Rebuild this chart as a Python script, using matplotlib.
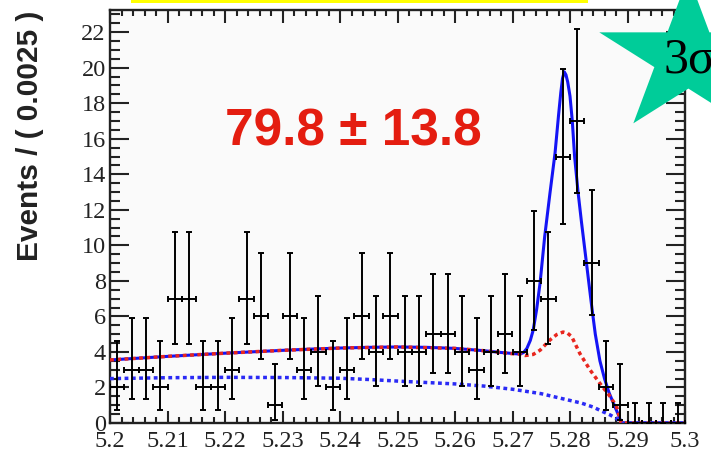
import numpy as np
import matplotlib
matplotlib.use("Agg")
import matplotlib.pyplot as plt
from matplotlib.patches import Polygon, Rectangle
from matplotlib.ticker import MultipleLocator, FuncFormatter

W, H = 711, 453

# m_ES histogram, 40 bins of 0.0025 between 5.2 and 5.3
bin_lo = 5.2
bin_width = 0.0025
counts = [2, 3, 3, 2, 7, 7, 2, 2, 3, 7,
          6, 1, 6, 3, 4, 2, 3, 6, 4, 6,
          4, 4, 5, 5, 4, 3, 4, 5, 4, 8,
          7, 15, 17, 9, 2, 1, 0, 0, 0, 0]

# 68% Poisson intervals (lower, upper) per observed count
poisson_band = {
    0: (0.0, 1.15), 1: (0.173, 3.30), 2: (0.708, 4.64), 3: (1.37, 5.92),
    4: (2.09, 7.16), 5: (2.84, 8.38), 6: (3.62, 9.58), 7: (4.42, 10.77),
    8: (5.24, 11.95), 9: (6.06, 13.11), 15: (11.18, 19.95), 17: (12.92, 22.20),
}

# fit projections: full model, model without signal, combinatorial part
total_x = [5.200, 5.205, 5.210, 5.215, 5.220, 5.225, 5.230, 5.235, 5.240, 5.245,
           5.250, 5.255, 5.260, 5.265, 5.268, 5.2705, 5.2713, 5.2719, 5.2725, 5.2731,
           5.2736, 5.2742, 5.2748, 5.2756, 5.2765, 5.2774, 5.2780, 5.2784, 5.2787, 5.2790,
           5.2793, 5.2796, 5.2800, 5.2804, 5.2808, 5.2814, 5.2820, 5.2826, 5.2832, 5.2838,
           5.2844, 5.2852, 5.2860, 5.2868, 5.2878, 5.2885, 5.2889, 5.3000]
total_y = [3.55, 3.65, 3.75, 3.84, 3.93, 4.01, 4.09, 4.16, 4.22, 4.26,
           4.28, 4.26, 4.20, 4.07, 3.97, 3.90, 3.88, 3.96, 4.20, 4.65,
           5.23, 6.40, 7.90, 10.5, 12.9, 15.2, 17.3, 18.6, 19.4, 19.77,
           19.6, 19.2, 18.4, 17.0, 15.0, 13.0, 11.3, 9.7, 8.1, 6.5,
           5.0, 3.5, 2.5, 1.7, 0.92, 0.40, 0.0, 0.0]

peaking_x = [5.200, 5.210, 5.220, 5.230, 5.240, 5.250, 5.260, 5.265, 5.270, 5.2713,
             5.2722, 5.2736, 5.2748, 5.2765, 5.2777, 5.2788, 5.2796, 5.2803, 5.2817, 5.2835,
             5.2852, 5.2870, 5.2881, 5.2889, 5.3000]
peaking_y = [3.55, 3.75, 3.93, 4.09, 4.22, 4.28, 4.20, 4.07, 3.90, 3.88,
             3.80, 3.86, 4.10, 4.67, 4.98, 5.12, 5.05, 4.86, 3.92, 2.98,
             2.23, 1.48, 0.92, 0.0, 0.0]

comb_x = [5.200, 5.210, 5.220, 5.230, 5.240, 5.245, 5.250, 5.255, 5.260, 5.265,
          5.270, 5.275, 5.278, 5.282, 5.284, 5.2857, 5.2870, 5.2881, 5.2889, 5.3000]
comb_y = [2.50, 2.55, 2.57, 2.56, 2.52, 2.45, 2.36, 2.28, 2.20, 2.08,
          1.90, 1.65, 1.42, 1.12, 0.90, 0.64, 0.45, 0.25, 0.0, 0.0]

yield_text = "79.8 \u00b1 13.8"

fig = plt.figure(figsize=(W / 100, H / 100), dpi=100)
fig.patch.set_facecolor("white")
ax = fig.add_axes([110 / W, 1 - 423 / H, 575 / W, 413 / H])
ax.set_facecolor("#fafafa")

centers = bin_lo + bin_width * (np.arange(len(counts)) + 0.5)
n = np.array(counts, dtype=float)
lo = np.array([poisson_band[c][0] for c in counts])
hi = np.array([poisson_band[c][1] for c in counts])

ax.plot(total_x, total_y, color="#1414f5", lw=2.2, zorder=2,
        solid_joinstyle="round")
ax.plot(comb_x, comb_y, color="#2a2af5", lw=2.5, ls=(0, (1.1, 1.0)), zorder=3)
ax.plot(peaking_x, peaking_y, color="#e8261e", lw=2.5, ls=(0, (1.1, 1.0)), zorder=3)

ax.errorbar(centers, n, yerr=[n - lo, hi - n], xerr=bin_width / 2, fmt="none",
            ecolor="black", elinewidth=1.4, capsize=2.5, capthick=1.4, zorder=4)

ax.set_xlim(5.2, 5.3)
ax.set_ylim(0, 23.25)
ax.xaxis.set_major_locator(MultipleLocator(0.01))
ax.xaxis.set_minor_locator(MultipleLocator(0.002))
ax.yaxis.set_major_locator(MultipleLocator(2))
ax.yaxis.set_minor_locator(MultipleLocator(0.5))
ax.xaxis.set_major_formatter(FuncFormatter(lambda v, p: "%g" % round(v, 3)))
ax.yaxis.set_major_formatter(FuncFormatter(lambda v, p: "%d" % round(v)))

ax.tick_params(which="both", direction="in", top=True, right=True, width=1.5,
               color="#222222")
ax.tick_params(axis="y", which="major", length=14, pad=3)
ax.tick_params(axis="y", which="minor", length=7)
ax.tick_params(axis="x", which="major", length=9, pad=6)
ax.tick_params(axis="x", which="minor", length=4.5)
for lab in ax.get_xticklabels() + ax.get_yticklabels():
    lab.set_family("Liberation Serif")
    lab.set_fontsize(17.5)
    lab.set_color("#222222")
for sp in ax.spines.values():
    sp.set_linewidth(1.7)
    sp.set_color("#222222")

fig.text(30 / W, 1 - 11 / H, "Events / ( 0.0025 )", rotation=90, ha="center",
         va="top", fontsize=21.5, weight="bold", family="Liberation Sans",
         color="#222222")

fig.text(353.5 / W, 1 - 145 / H, yield_text, ha="center", va="baseline",
         fontsize=37, weight="bold", family="Liberation Sans", color="#e41d10")

# yellow strip along the top edge
fig.patches.append(Rectangle((131 / W, 1 - 3 / H), (588 - 131) / W, 10 / H,
                             transform=fig.transFigure, facecolor="#ffff00",
                             edgecolor="none", zorder=10))

# five-pointed star badge
cx, cy, rx, ry = 688.4, 57.5, 93.7, 81.4
ang = np.deg2rad(90 + 36 * np.arange(10))
rad = np.where(np.arange(10) % 2 == 0, 1.0, 0.382)
sx = (cx + rx * rad * np.cos(ang)) / W
sy = 1 - (cy - ry * rad * np.sin(ang)) / H
fig.patches.append(Polygon(np.column_stack([sx, sy]), closed=True,
                           transform=fig.transFigure, facecolor="#00cc99",
                           edgecolor="none", zorder=10))
fig.text(689 / W, 1 - 73 / H, "3\u03c3", ha="center", va="baseline", fontsize=36,
         family="Liberation Serif", color="black", zorder=11)

fig.savefig("out.png", dpi=100)
